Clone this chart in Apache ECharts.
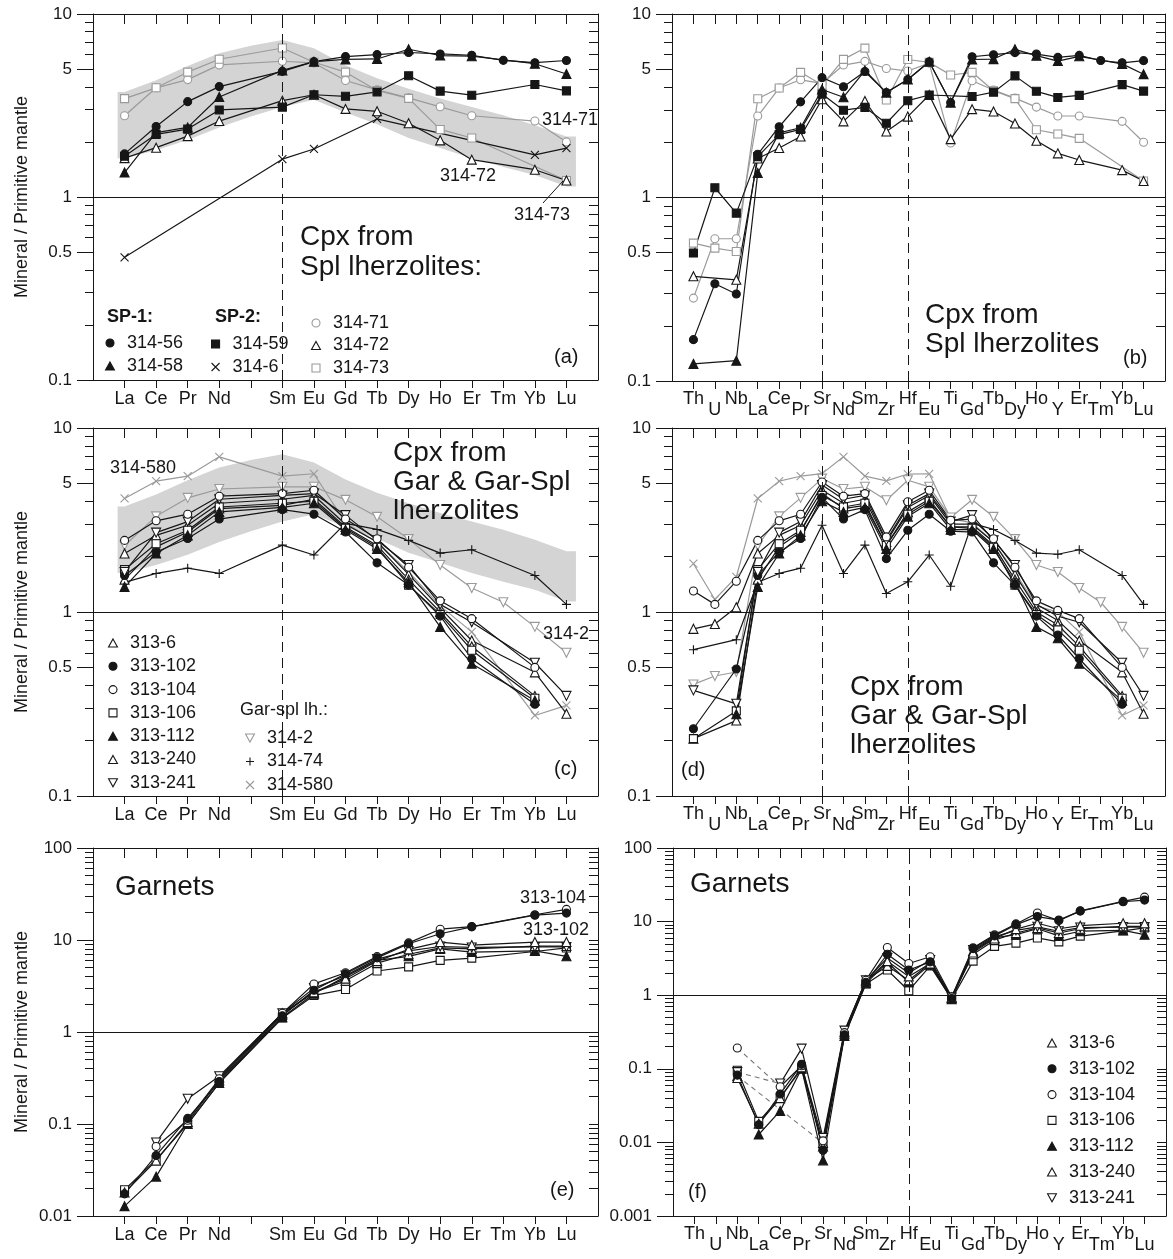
<!DOCTYPE html>
<html><head><meta charset="utf-8">
<script src="https://cdn.jsdelivr.net/npm/echarts@6/dist/echarts.min.js"></script>
<style>html,body{margin:0;padding:0;background:#fff}#c{width:1173px;height:1259px}</style>
</head><body><div id="c"></div>
<script>
// ---------- categories ----------
const REE = ['La','Ce','Pr','Nd','Pm','Sm','Eu','Gd','Tb','Dy','Ho','Er','Tm','Yb','Lu'];
const REE_LABELS = ['La','Ce','Pr','Nd','','Sm','Eu','Gd','Tb','Dy','Ho','Er','Tm','Yb','Lu'];
const SPIDER = ['Th','U','Nb','La','Ce','Pr','Sr','Nd','Sm','Zr','Hf','Eu','Ti','Gd','Tb','Dy','Ho','Y','Er','Tm','Yb','Lu'];

// ---------- values (normalised to primitive mantle), SPIDER order ----------
// Cpx from spinel lherzolites
const cpx_314_56 = [0.168,0.339,0.298,1.72,2.43,3.32,4.50,4.01,4.86,3.73,4.40,5.49,3.29,5.85,6.00,6.16,6.05,5.80,5.95,5.58,5.42,5.57];
const cpx_314_58 = [0.124,null,0.129,1.36,2.25,2.40,3.88,3.52,4.92,3.73,4.40,5.49,3.29,5.65,5.68,6.42,5.93,5.54,5.88,null,5.35,4.70];
const cpx_314_59 = [0.498,1.13,0.822,1.67,2.20,2.35,3.66,2.99,3.10,2.54,3.37,3.62,null,3.55,3.75,4.60,3.79,3.51,3.60,null,4.12,3.80];
const cpx_314_6  = [null,null,null,0.468,null,null,null,null,1.61,null,null,1.83,null,null,2.67,null,null,null,null,null,1.70,1.85];
const cpx_314_71 = [0.283,0.596,0.596,2.78,3.95,4.38,4.19,5.27,5.52,5.05,4.89,5.40,1.98,4.33,3.85,3.48,3.11,2.78,2.78,null,2.60,2.00];
const cpx_314_72 = [0.372,null,0.356,1.63,1.86,2.15,3.43,2.60,3.36,2.29,2.76,3.62,2.08,3.03,2.94,2.53,2.04,1.74,1.60,null,1.41,1.23];
const cpx_314_73 = [0.564,0.530,0.508,3.45,3.95,4.81,4.10,5.66,6.52,3.40,5.65,5.45,4.65,4.81,3.82,3.46,2.34,2.22,2.10,null,null,1.23];
// Cpx from garnet and garnet-spinel lherzolites
const cpx_313_6   = [0.81,0.86,1.06,2.08,2.61,2.96,4.60,3.90,4.10,2.40,3.70,4.30,3.00,3.00,2.40,1.60,1.05,0.90,0.70,null,0.47,0.28];
const cpx_313_102 = [0.232,null,0.49,1.58,2.12,2.51,4.20,3.20,3.60,1.95,2.78,3.40,2.75,2.72,1.85,1.40,0.95,0.75,0.557,null,0.315,null];
const cpx_313_104 = [1.30,1.10,1.47,2.45,3.13,3.40,5.09,4.26,4.40,2.56,3.97,4.59,3.15,3.20,2.50,1.75,1.15,1.02,0.92,null,0.50,null];
const cpx_313_106 = [0.205,null,0.29,1.70,2.35,2.78,4.30,3.72,3.90,2.30,3.40,4.00,2.90,2.85,2.25,1.40,0.97,0.80,0.62,null,0.34,null];
const cpx_313_112 = [null,null,0.278,1.37,2.08,2.61,4.00,3.50,3.70,2.20,3.30,3.90,2.80,2.80,2.20,1.45,0.83,0.72,0.524,null,0.33,null];
const cpx_313_240 = [0.205,null,0.257,1.50,2.26,2.72,4.40,3.65,3.80,2.30,3.50,4.10,2.90,2.90,2.30,1.50,1.00,0.85,0.65,null,0.35,null];
const cpx_313_241 = [0.375,null,0.317,1.65,2.70,3.10,4.90,4.10,4.30,2.45,3.80,4.40,3.10,3.36,2.45,1.80,1.10,0.95,0.88,null,0.53,0.35];
const cpx_314_2   = [0.404,0.449,0.472,2.30,3.31,4.17,5.31,4.66,4.79,4.05,5.20,4.79,3.26,4.07,3.29,2.49,1.80,1.65,1.35,1.13,0.83,0.60];
const cpx_314_74  = [0.624,null,0.707,1.45,1.62,1.73,2.96,1.62,2.31,1.26,1.46,2.04,1.38,3.03,2.81,2.45,2.09,2.06,2.18,null,1.58,1.10];
const cpx_314_580 = [1.83,1.17,1.55,4.14,5.14,5.47,5.65,6.97,5.48,5.16,5.62,5.64,3.22,3.05,2.40,1.65,1.08,1.00,0.78,null,0.274,0.311];
// Garnets
const grt_313_6   = [null,null,0.075,0.018,0.040,0.105,0.0088,0.30,1.55,2.90,1.80,2.70,0.92,3.80,5.90,7.90,9.50,8.00,8.80,null,9.50,9.50];
const grt_313_102 = [null,null,0.082,0.0174,0.0455,0.115,0.0078,0.29,1.50,3.60,2.20,2.84,0.90,4.30,6.40,9.10,11.7,10.5,13.9,null,18.6,19.6];
const grt_313_104 = [null,null,0.192,null,0.057,0.110,0.0105,0.31,1.60,4.45,2.70,3.33,0.95,4.40,6.60,9.30,13.1,10.3,14.0,null,18.8,21.5];
const grt_313_106 = [null,null,0.0955,0.0193,0.041,0.100,0.0092,0.28,1.42,2.20,1.15,2.50,0.88,2.90,4.60,5.10,6.00,5.30,6.35,null,7.50,8.20];
const grt_313_112 = [null,null,null,0.0128,0.0268,0.100,0.0057,0.28,1.45,2.80,1.50,2.60,0.88,4.00,6.00,6.65,8.00,6.40,7.40,null,7.60,6.65];
const grt_313_240 = [null,null,0.080,null,null,null,0.0098,0.32,1.60,2.50,1.60,2.70,0.93,3.60,5.60,7.00,8.20,7.00,8.00,null,8.60,8.60];
const grt_313_241 = [null,null,0.090,null,0.063,0.188,0.0115,0.33,1.60,3.20,2.00,3.00,0.93,4.10,6.20,7.60,8.50,7.40,8.30,null,8.40,8.40];

// Range of cpx from Spl lherzolites (shaded field), REE order incl. Pm
const bandUpper = [3.75,4.35,5.20,6.10,6.70,7.20,6.50,5.25,4.45,3.90,3.45,3.10,2.80,2.47,2.14];
const bandLower = [1.63,1.80,2.05,2.40,2.75,3.10,3.40,2.90,2.50,2.10,1.85,1.63,1.46,1.32,1.14];

// ---------- styles ----------
const FONT = '"Liberation Sans", Arial, Helvetica, sans-serif';
const INK = '#161616';
const GRAY = '#9a9a9a';
const SYM_X = 'path://M0,0L10,10M10,0L0,10';
const SYM_PLUS = 'path://M5,0L5,10M0,5L10,5';
const SYM_INV = 'path://M0,0L10,0L5,9Z';
const SYM_TRI = 'path://M5,0L10,9L0,9Z';
const SYM_SQ = 'path://M0,0L10,0L10,10L0,10Z';
const STYLE = {
  '314-56': {sym:'circle', fill:INK, stroke:INK, size:8},
  '314-58': {sym:SYM_TRI, fill:INK, stroke:INK, size:9},
  '314-59': {sym:SYM_SQ, fill:INK, stroke:INK, size:8},
  '314-6':  {sym:SYM_X, fill:INK, stroke:INK, size:8},
  '314-71': {sym:'circle', fill:'#fff', stroke:GRAY, size:8},
  '314-72': {sym:SYM_TRI, fill:'#fff', stroke:INK, size:9},
  '314-73': {sym:SYM_SQ, fill:'#fff', stroke:GRAY, size:8},
  '313-6':  {sym:SYM_TRI, fill:'#fff', stroke:INK, size:9},
  '313-102':{sym:'circle', fill:INK, stroke:INK, size:8},
  '313-104':{sym:'circle', fill:'#fff', stroke:INK, size:8},
  '313-106':{sym:SYM_SQ, fill:'#fff', stroke:INK, size:8},
  '313-112':{sym:SYM_TRI, fill:INK, stroke:INK, size:9},
  '313-240':{sym:SYM_TRI, fill:'#fff', stroke:INK, size:9},
  '313-241':{sym:SYM_INV, fill:'#fff', stroke:INK, size:9},
  '314-2':  {sym:SYM_INV, fill:'#fff', stroke:GRAY, size:9},
  '314-74': {sym:SYM_PLUS, fill:INK, stroke:INK, size:9},
  '314-580':{sym:SYM_X, fill:GRAY, stroke:GRAY, size:8}
};

const panels = [
  {rect:{left:93,top:14,width:505,height:366}, elems:REE, labels:REE_LABELS, stagger:false,
   ymin:0.1, ymax:10, majors:[0.1,0.5,1,5,10], vlines:['Sm'], band:true, ytitle:true, dashGaps:false,
   samples:[['314-71',cpx_314_71],['314-73',cpx_314_73],['314-72',cpx_314_72],['314-6',cpx_314_6],['314-59',cpx_314_59],['314-58',cpx_314_58],['314-56',cpx_314_56]]},
  {rect:{left:672,top:14,width:493,height:367}, elems:SPIDER, labels:SPIDER, stagger:true,
   ymin:0.1, ymax:10, majors:[0.1,0.5,1,5,10], vlines:['Sr','Hf'], band:false, ytitle:false, dashGaps:false,
   samples:[['314-71',cpx_314_71],['314-73',cpx_314_73],['314-72',cpx_314_72],['314-59',cpx_314_59],['314-58',cpx_314_58],['314-56',cpx_314_56]]},
  {rect:{left:93,top:428,width:505,height:368}, elems:REE, labels:REE_LABELS, stagger:false,
   ymin:0.1, ymax:10, majors:[0.1,0.5,1,5,10], vlines:['Sm'], band:true, ytitle:true, dashGaps:false,
   samples:[['314-580',cpx_314_580],['314-2',cpx_314_2],['314-74',cpx_314_74],['313-6',cpx_313_6],['313-240',cpx_313_240],['313-106',cpx_313_106],['313-112',cpx_313_112],['313-102',cpx_313_102],['313-241',cpx_313_241],['313-104',cpx_313_104]]},
  {rect:{left:672,top:428,width:493,height:368}, elems:SPIDER, labels:SPIDER, stagger:true,
   ymin:0.1, ymax:10, majors:[0.1,0.5,1,5,10], vlines:['Sr','Hf'], band:false, ytitle:false, dashGaps:false,
   samples:[['314-580',cpx_314_580],['314-2',cpx_314_2],['314-74',cpx_314_74],['313-6',cpx_313_6],['313-240',cpx_313_240],['313-106',cpx_313_106],['313-112',cpx_313_112],['313-102',cpx_313_102],['313-241',cpx_313_241],['313-104',cpx_313_104]]},
  {rect:{left:93,top:848,width:505,height:368}, elems:REE, labels:REE_LABELS, stagger:false,
   ymin:0.01, ymax:100, majors:[0.01,0.1,1,10,100], vlines:[], band:false, ytitle:true, dashGaps:false,
   samples:[['313-106',grt_313_106],['313-112',grt_313_112],['313-240',grt_313_240],['313-241',grt_313_241],['313-6',grt_313_6],['313-104',grt_313_104],['313-102',grt_313_102]]},
  {rect:{left:673,top:848,width:493,height:368}, elems:SPIDER, labels:SPIDER, stagger:true,
   ymin:0.001, ymax:100, majors:[0.001,0.01,0.1,1,10,100], vlines:['Hf'], band:false, ytitle:false, dashGaps:true,
   samples:[['313-106',grt_313_106],['313-112',grt_313_112],['313-240',grt_313_240],['313-241',grt_313_241],['313-6',grt_313_6],['313-104',grt_313_104],['313-102',grt_313_102]]}
];

function fmtNum(v){ return String(+Number(v).toPrecision(6)); }

function buildPoints(values, elems, dashGaps){
  const solid=[], dashed=[]; let prev=null;
  elems.forEach((el,i)=>{
    const si = SPIDER.indexOf(el);
    const v = si>=0 ? values[si] : null;
    if (v==null) return;
    const x=i+1;
    if (prev && dashGaps){
      const skipped = elems.slice(prev.i+1,i).filter(e=>e!=='Tm' && e!=='Pm');
      if (skipped.length){ solid.push([(prev.x+x)/2,'-']); dashed.push([[prev.x,prev.v],[x,v]]); }
    }
    solid.push([x,v]); prev={x,v,i};
  });
  return {solid,dashed};
}

const grids=[], xAxes=[], yAxes=[], series=[];
const lblStyle = {fontFamily:FONT, color:INK};

panels.forEach((p,gi)=>{
  grids.push({left:p.rect.left, top:p.rect.top, width:p.rect.width, height:p.rect.height, containLabel:false});
  const N=p.elems.length;
  const allPos=p.elems.map((e,i)=>i+1);
  const labelPos=allPos.filter(x=>p.labels[x-1]!=='');
  const fmtX = v => p.labels[Math.round(v)-1];
  const baseX = {gridIndex:gi, type:'value', min:0, max:N+1, splitLine:{show:false}};
  const xMain = xAxes.length;
  xAxes.push(Object.assign({}, baseX, {position:'bottom',
    axisLine:{show:true,onZero:false,lineStyle:{color:INK,width:1}},
    axisTick:{show:true,customValues:allPos,length:8,inside:false,lineStyle:{color:INK,width:1}},
    axisLabel:Object.assign({show:true, customValues: p.stagger ? labelPos.filter(x=>x%2===1) : labelPos,
      formatter:fmtX, margin:p.stagger?9:10, fontSize:18}, lblStyle)}));
  if (p.stagger){
    xAxes.push(Object.assign({}, baseX, {position:'bottom', axisLine:{show:false}, axisTick:{show:false},
      axisLabel:Object.assign({show:true, customValues:labelPos.filter(x=>x%2===0), formatter:fmtX, margin:20, fontSize:18}, lblStyle)}));
  }
  xAxes.push(Object.assign({}, baseX, {position:'top',
    axisLine:{show:true,onZero:false,lineStyle:{color:INK,width:1}},
    axisTick:{show:true,customValues:allPos,length:10,inside:true,lineStyle:{color:INK,width:1}},
    axisLabel:{show:false}}));

  // y axes
  const minors=[];
  for (let d=p.ymin; d<p.ymax*0.999; d*=10){
    for (let k=2;k<=9;k++){
      const v=+(d*k).toPrecision(6);
      if (!p.majors.some(m=>Math.abs(m-v)/v<1e-6)) minors.push(v);
    }
  }
  const allTicks = p.majors.concat(minors).sort((a,b)=>a-b);
  const baseY = {gridIndex:gi, type:'log', logBase:10, min:p.ymin, max:p.ymax, splitLine:{show:false}, minorTick:{show:false}};
  const yMain = yAxes.length;
  yAxes.push(Object.assign({}, baseY, {position:'left',
    axisLine:{show:true,onZero:false,lineStyle:{color:INK,width:1}},
    axisTick:{show:true,customValues:p.majors,length:16,inside:false,lineStyle:{color:INK,width:1}},
    axisLabel:Object.assign({show:true,customValues:p.majors,formatter:fmtNum,margin:21,fontSize:17}, lblStyle),
    name: p.ytitle ? 'Mineral / Primitive mantle' : '', nameLocation:'middle', nameGap:62,
    nameTextStyle:{fontSize:18, color:INK, fontFamily:FONT}}));
  yAxes.push(Object.assign({}, baseY, {position:'left', axisLine:{show:false},
    axisTick:{show:true,customValues:minors,length:8,inside:false,lineStyle:{color:INK,width:1}},
    axisLabel:{show:false}}));
  yAxes.push(Object.assign({}, baseY, {position:'right',
    axisLine:{show:true,onZero:false,lineStyle:{color:INK,width:1}},
    axisTick:{show:true,customValues:allTicks,length:9,inside:true,lineStyle:{color:INK,width:1}},
    axisLabel:{show:false}}));

  // shaded field
  if (p.band){
    series.push({type:'custom', xAxisIndex:xMain, yAxisIndex:yMain, silent:true, z:1, animation:false,
      data:[[1,1]],
      renderItem:function(params, api){
        const pts=[];
        pts.push(api.coord([0.78, bandUpper[0]]));
        for (let i=0;i<REE.length;i++) pts.push(api.coord([i+1, bandUpper[i]]));
        pts.push(api.coord([REE.length+0.3, bandUpper[REE.length-1]]));
        pts.push(api.coord([REE.length+0.3, bandLower[REE.length-1]]));
        for (let i=REE.length-1;i>=0;i--) pts.push(api.coord([i+1, bandLower[i]]));
        pts.push(api.coord([0.78, bandLower[0]]));
        return {type:'polygon', shape:{points:pts}, style:{fill:'#d4d4d4'}};
      }});
  }

  // reference lines
  const ml=[{yAxis:1, lineStyle:{type:'solid', color:INK, width:1}}];
  p.vlines.forEach(el=>ml.push({xAxis:p.elems.indexOf(el)+1, lineStyle:{type:[10,6], color:INK, width:1}}));
  series.push({type:'line', xAxisIndex:xMain, yAxisIndex:yMain, data:[], silent:true, z:2, animation:false,
    markLine:{silent:true, symbol:['none','none'], label:{show:false}, animation:false, data:ml}});

  // samples
  p.samples.forEach(([name, vals])=>{
    const st=STYLE[name];
    const pts=buildPoints(vals, p.elems, p.dashGaps);
    pts.dashed.forEach(seg=>{
      series.push({type:'line', name:name+' (gap)', xAxisIndex:xMain, yAxisIndex:yMain, data:seg, symbol:'none',
        lineStyle:{color:'#777', width:1.1, type:[5,4]}, silent:true, z:3, animation:false});
    });
    series.push({type:'line', name, xAxisIndex:xMain, yAxisIndex:yMain, data:pts.solid,
      symbol:st.sym, symbolSize:st.size, showSymbol:true, connectNulls:false,
      lineStyle:{color:st.stroke, width:1.2},
      itemStyle:{color:st.fill, borderColor:st.stroke, borderWidth:1.1},
      emphasis:{disabled:true}, silent:true, z:4, animation:false});
  });
});

function legendBlock(names, left, top, gap){
  return {show:true, orient:'vertical', left, top, itemGap:gap, itemWidth:24, itemHeight:8, selectedMode:false,
    symbolKeepAspect:true, padding:0, textStyle:{fontSize:18, color:INK, fontFamily:FONT, lineHeight:20},
    data:names.map(n=>({name:n, icon:STYLE[n].sym,
      itemStyle:{color:STYLE[n].fill, borderColor:STYLE[n].stroke, borderWidth:1.1}}))};
}
const legends=[
  legendBlock(['314-56','314-58'], 105, 333, 3),
  legendBlock(['314-59','314-6'], 211, 334, 3),
  legendBlock(['314-71','314-72','314-73'], 311, 313, 2.5),
  legendBlock(['313-6','313-102','313-104','313-106','313-112','313-240','313-241'], 108, 633, 3.3),
  legendBlock(['314-2','314-74','314-580'], 245, 728, 3.5),
  legendBlock(['313-6','313-102','313-104','313-106','313-112','313-240','313-241'], 1047, 1033, 5.8)
];

function txt(text, x, y, size, bold, lh){
  return {type:'text', x, y, silent:true, z:50,
    style:{text, font:(bold?'bold ':'')+size+'px '+FONT, fill:INK, align:'left', verticalAlign:'middle', lineHeight:lh||size}};
}
const graphics=[
  txt('Cpx from', 300, 237, 28), txt('Spl lherzolites:', 300, 267, 28),
  txt('SP-1:', 107, 317, 18, true), txt('SP-2:', 215, 317, 18, true),
  txt('(a)', 554, 357, 20),
  txt('314-71', 542, 120, 18), txt('314-72', 440, 176, 18), txt('314-73', 514, 215, 18),
  {type:'line', silent:true, z:50, shape:{x1:543,y1:203,x2:563,y2:181}, style:{stroke:INK, lineWidth:1}},
  txt('Cpx from', 925, 315, 28), txt('Spl lherzolites', 925, 344, 28), txt('(b)', 1123, 358, 20),
  txt('Cpx from', 393, 453, 28), txt('Gar & Gar-Spl', 393, 482, 28), txt('lherzolites', 393, 511, 28),
  txt('314-580', 110, 468, 18), txt('314-2', 543, 634, 18), txt('Gar-spl lh.:', 240, 710, 18), txt('(c)', 554, 769, 20),
  txt('Cpx from', 850, 687, 28), txt('Gar & Gar-Spl', 850, 716, 28), txt('lherzolites', 850, 745, 28), txt('(d)', 681, 770, 20),
  txt('Garnets', 115, 887, 28), txt('313-104', 520, 898, 18), txt('313-102', 523, 930, 18), txt('(e)', 550, 1190, 20),
  txt('Garnets', 690, 884, 28), txt('(f)', 688, 1192, 20)
];

const chart = echarts.init(document.getElementById('c'), null, {renderer:'canvas'});
chart.setOption({
  backgroundColor:'#ffffff', animation:false,
  textStyle:{fontFamily:FONT},
  grid:grids, xAxis:xAxes, yAxis:yAxes, series, legend:legends, graphic:graphics
});
</script>
</body></html>
